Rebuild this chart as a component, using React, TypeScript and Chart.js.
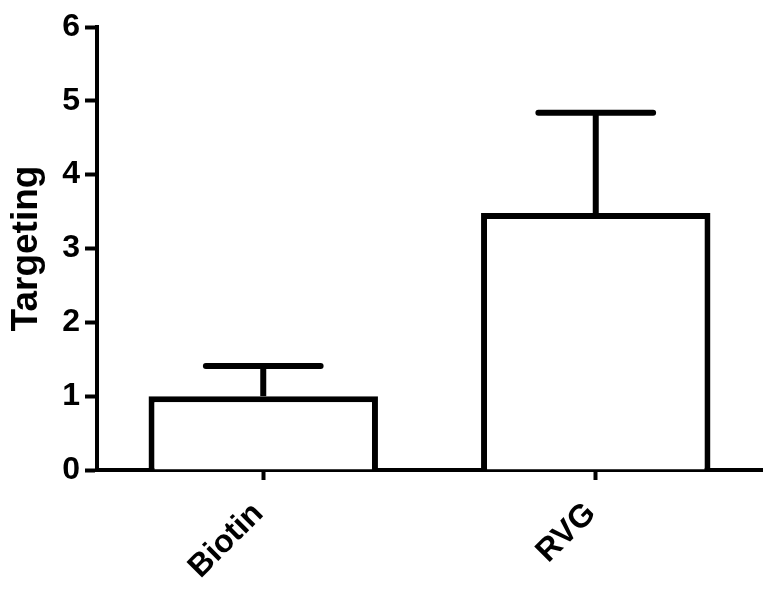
import React, { useEffect, useRef } from "react";
import { Chart, registerables } from "chart.js";

Chart.register(...registerables);

const categories = ["Biotin", "RVG"];
const means = [1.0, 3.48];
const errors = [0.41, 1.36];
const yTicks = [0, 1, 2, 3, 4, 5, 6];
const yTitle = "Targeting";

const FONT = "'Liberation Sans', Arial, sans-serif";

const errorBarPlugin = {
  id: "errorBars",
  afterDatasetsDraw(chart: any) {
    const meta = chart.getDatasetMeta(0);
    const yScale = chart.scales.y;
    const ctx = chart.ctx;
    ctx.save();
    ctx.strokeStyle = "#000";
    ctx.lineWidth = 6;
    meta.data.forEach((el: any, i: number) => {
      const x = el.x;
      const yTop = el.y;
      const yErr = yScale.getPixelForValue(means[i] + errors[i]);
      const half = el.width * 0.25;
      ctx.lineCap = "butt";
      ctx.beginPath();
      ctx.moveTo(x, yTop);
      ctx.lineTo(x, yErr);
      ctx.stroke();
      ctx.lineCap = "round";
      ctx.beginPath();
      ctx.moveTo(x - half, yErr);
      ctx.lineTo(x + half, yErr);
      ctx.stroke();
    });
    ctx.restore();
  },
};

export default function App() {
  const ref = useRef<HTMLCanvasElement>(null);
  useEffect(() => {
    if (!ref.current) return;
    const chart = new Chart(ref.current, {
      type: "bar",
      data: {
        labels: categories,
        datasets: [
          {
            data: means,
            backgroundColor: "#ffffff",
            borderColor: "#000000",
            borderWidth: 6,
            borderSkipped: "start",
            categoryPercentage: 1,
            barPercentage: 0.69,
          },
        ],
      },
      options: {
        responsive: false,
        animation: false,
        layout: { padding: { left: 0, top: 27, right: 20, bottom: 0 } },
        plugins: { legend: { display: false }, tooltip: { enabled: false } },
        scales: {
          x: {
            afterFit: (s: any) => {
              s.height = 121;
            },
            grid: {
              display: true,
              drawOnChartArea: false,
              drawTicks: true,
              offset: false,
              tickLength: 10,
              tickWidth: 4,
              color: "#000",
            },
            border: { display: true, color: "#000", width: 4 },
            ticks: {
              color: "#000",
              minRotation: 45,
              maxRotation: 45,
              padding: 15,
              labelOffset: -5,
              font: { family: FONT, size: 32, weight: "bold" },
            },
          },
          y: {
            min: 0,
            max: 6,
            afterFit: (s: any) => {
              s.width = 97;
            },
            afterBuildTicks: (s: any) => {
              s.ticks = yTicks.map((v) => ({ value: v }));
            },
            grid: {
              display: true,
              drawOnChartArea: false,
              drawTicks: true,
              tickLength: 12,
              tickWidth: 4,
              color: "#000",
            },
            border: { display: true, color: "#000", width: 4 },
            ticks: {
              color: "#000",
              padding: 5,
              font: { family: FONT, size: 32, weight: "bold" },
            },
            title: {
              display: true,
              text: yTitle,
              color: "#000",
              padding: { top: 5, bottom: 0 },
              font: { family: FONT, size: 37, weight: "bold" },
            },
          },
        },
      },
      plugins: [errorBarPlugin],
    });
    return () => chart.destroy();
  }, []);
  return (
    <div style={{ position: "fixed", left: 0, top: 0, width: 782, height: 591, background: "#fff" }}>
      <canvas ref={ref} width={782} height={591} />
    </div>
  );
}
